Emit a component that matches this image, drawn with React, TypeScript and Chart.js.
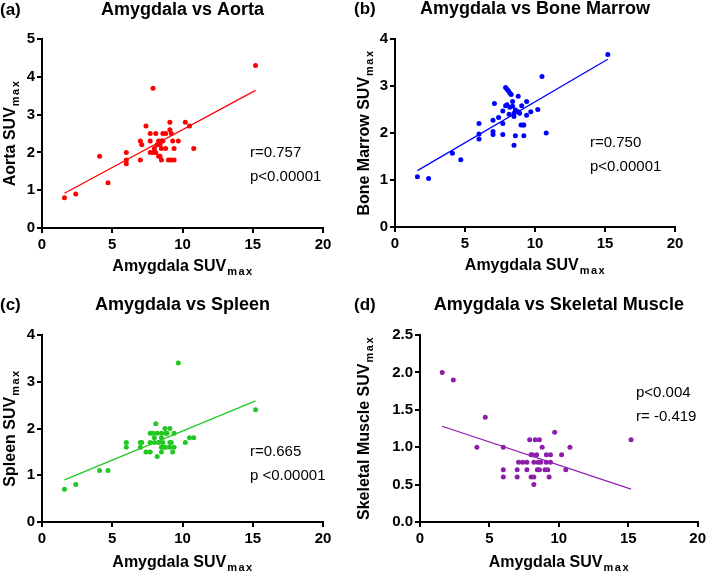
import React, { useEffect, useRef } from "react";
import { Chart, registerables } from "chart.js";
Chart.register(...registerables);

const FONT = '"Liberation Sans", Arial, Helvetica, sans-serif';

// ---- Data ----
const xTicks = [0, 5, 10, 15, 20];

const aortaX = [1.6, 2.4, 4.1, 4.7, 6.0, 6.0, 6.0, 7.0, 7.0, 7.1, 7.4, 7.7, 7.7, 7.7, 7.9, 7.9, 8.0, 8.1, 8.1, 8.2, 8.3, 8.3, 8.4, 8.4, 8.5, 8.5, 8.5, 8.6, 8.6, 8.8, 8.8, 9.0, 9.1, 9.1, 9.2, 9.2, 9.3, 9.4, 9.4, 9.7, 10.2, 10.5, 10.8, 15.2];
const aortaY = [0.8, 0.9, 1.9, 1.2, 2.0, 1.8, 1.7, 2.3, 1.8, 2.2, 2.7, 2.5, 2.3, 2.0, 3.7, 2.0, 2.1, 2.5, 2.0, 2.2, 1.9, 2.3, 2.2, 1.9, 2.3, 2.1, 1.8, 2.5, 2.3, 2.5, 2.1, 1.8, 2.8, 2.6, 2.5, 1.8, 2.3, 2.1, 1.8, 2.3, 2.8, 2.7, 2.1, 4.3];
const aortaFitX = [1.6, 15.2];
const aortaFitY = [0.92, 3.64];

const boneX = [1.6, 2.4, 4.1, 4.7, 6.0, 6.0, 6.0, 7.1, 7.0, 7.0, 7.0, 7.4, 7.7, 7.7, 7.7, 7.9, 8.0, 8.1, 8.2, 8.3, 7.9, 8.0, 8.2, 8.15, 8.4, 8.4, 8.5, 8.5, 8.5, 8.6, 8.6, 8.8, 8.8, 8.9, 9.0, 9.05, 9.15, 9.2, 9.2, 9.4, 9.4, 9.7, 10.2, 10.5, 10.8, 15.2];
const boneY = [1.07, 1.03, 1.57, 1.43, 2.2, 1.98, 1.87, 2.63, 2.27, 2.03, 1.97, 2.33, 2.47, 2.2, 1.97, 2.97, 2.93, 2.9, 2.85, 2.82, 2.58, 2.6, 2.55, 2.4, 2.57, 2.67, 2.42, 2.35, 1.74, 2.49, 1.94, 2.78, 2.45, 2.42, 2.17, 2.58, 2.17, 2.17, 1.94, 2.67, 2.38, 2.45, 2.5, 3.2, 2.0, 3.67];
const boneFitX = [1.6, 15.2];
const boneFitY = [1.2, 3.57];

const spleenX = [1.6, 2.4, 4.1, 4.7, 6.0, 6.0, 7.0, 7.0, 7.1, 7.4, 7.7, 7.7, 7.7, 7.9, 8.0, 8.1, 8.0, 8.2, 8.2, 8.3, 8.5, 8.5, 8.5, 8.5, 8.6, 8.65, 8.8, 8.75, 8.9, 8.8, 9.1, 9.1, 9.2, 9.1, 9.3, 9.4, 9.4, 9.7, 10.2, 10.5, 10.8, 15.2];
const spleenY = [0.7, 0.8, 1.1, 1.1, 1.7, 1.6, 1.7, 1.6, 1.7, 1.5, 1.9, 1.7, 1.5, 1.9, 1.8, 2.1, 1.7, 1.9, 1.4, 1.7, 1.8, 1.9, 1.6, 1.5, 1.7, 1.6, 1.9, 2.0, 1.9, 1.6, 2.0, 1.7, 1.7, 1.6, 1.5, 1.9, 1.6, 3.4, 1.7, 1.8, 1.8, 2.4];
const spleenFitX = [1.6, 15.2];
const spleenFitY = [0.9, 2.59];

const muscleX = [1.6, 2.4, 4.1, 4.7, 6.0, 6.0, 6.0, 7.0, 7.0, 7.1, 7.4, 7.7, 7.7, 7.9, 8.0, 8.0, 8.1, 8.2, 8.2, 8.2, 8.3, 8.4, 8.45, 8.5, 8.6, 8.6, 8.7, 8.8, 9.1, 9.1, 9.0, 9.2, 9.3, 9.4, 9.4, 9.7, 10.2, 10.5, 10.8, 15.2];
const muscleY = [2.0, 1.9, 1.0, 1.4, 1.0, 0.7, 0.6, 0.7, 0.6, 0.8, 0.8, 0.8, 0.7, 1.1, 0.9, 0.6, 0.9, 0.8, 0.5, 0.6, 1.1, 0.9, 0.7, 0.8, 1.1, 0.7, 0.8, 1.0, 0.9, 0.8, 0.7, 0.7, 0.6, 0.9, 0.8, 1.2, 0.9, 0.7, 1.0, 1.1];
const muscleFitX = [1.6, 15.2];
const muscleFitY = [1.28, 0.44];

type PanelCfg = {
  left: number; top: number; width: number; height: number;
  letter: string; title: string; yLabel: string;
  xs: number[]; ys: number[]; fitX: number[]; fitY: number[];
  color: string; yMax: number; yStep: number; decimals: number;
  notes: string[]; noteX: number; noteY: number;
  padTop: number; padRight: number; yAxisW: number; xAxisH: number;
  titleY: number; letterY: number; xTitleY: number; yTitleX: number;
};

const panels: PanelCfg[] = [
  {
    left: 0, top: 0, width: 354, height: 286,
    letter: "(a)", title: "Amygdala vs Aorta", yLabel: "Aorta SUV",
    xs: aortaX, ys: aortaY, fitX: aortaFitX, fitY: aortaFitY,
    color: "#ff0000", yMax: 5, yStep: 1, decimals: 0,
    notes: ["r=0.757", "p<0.00001"], noteX: 250, noteY: 157,
    padTop: 39, padRight: 31, yAxisW: 42, xAxisH: 58,
    titleY: 15, letterY: 15, xTitleY: 271, yTitleX: 15,
  },
  {
    left: 354, top: 0, width: 355, height: 286,
    letter: "(b)", title: "Amygdala vs Bone Marrow", yLabel: "Bone Marrow SUV",
    xs: boneX, ys: boneY, fitX: boneFitX, fitY: boneFitY,
    color: "#0000ff", yMax: 4, yStep: 1, decimals: 0,
    notes: ["r=0.750", "p<0.00001"], noteX: 236, noteY: 147,
    padTop: 39, padRight: 34, yAxisW: 41, xAxisH: 59,
    titleY: 14, letterY: 14, xTitleY: 270, yTitleX: 15,
  },
  {
    left: 0, top: 286, width: 354, height: 286,
    letter: "(c)", title: "Amygdala vs Spleen", yLabel: "Spleen SUV",
    xs: spleenX, ys: spleenY, fitX: spleenFitX, fitY: spleenFitY,
    color: "#22c822", yMax: 4, yStep: 1, decimals: 0,
    notes: ["r=0.665", "p <0.00001"], noteX: 250, noteY: 170,
    padTop: 49, padRight: 31, yAxisW: 42, xAxisH: 50,
    titleY: 24, letterY: 24, xTitleY: 281, yTitleX: 15,
  },
  {
    left: 354, top: 286, width: 355, height: 286,
    letter: "(d)", title: "Amygdala vs Skeletal Muscle", yLabel: "Skeletal Muscle SUV",
    xs: muscleX, ys: muscleY, fitX: muscleFitX, fitY: muscleFitY,
    color: "#8c1eaa", yMax: 2.5, yStep: 0.5, decimals: 1,
    notes: ["p<0.004", "r= -0.419"], noteX: 282, noteY: 111,
    padTop: 49, padRight: 8, yAxisW: 66, xAxisH: 50,
    titleY: 24, letterY: 24, xTitleY: 281, yTitleX: 15,
  },
];

function drawSubLabel(ctx: CanvasRenderingContext2D, main: string, sub: string, cx: number, y: number) {
  ctx.font = `bold 16px ${FONT}`;
  (ctx as any).letterSpacing = "0px";
  const wMain = ctx.measureText(main).width;
  ctx.font = `bold 11px ${FONT}`;
  (ctx as any).letterSpacing = "1.5px";
  const wSub = ctx.measureText(sub).width;
  const x0 = cx - (wMain + wSub) / 2;
  ctx.textAlign = "left";
  ctx.textBaseline = "alphabetic";
  ctx.font = `bold 16px ${FONT}`;
  (ctx as any).letterSpacing = "0px";
  ctx.fillText(main, x0, y);
  ctx.font = `bold 11px ${FONT}`;
  (ctx as any).letterSpacing = "1.5px";
  ctx.fillText(sub, x0 + wMain + 1, y + 4);
  (ctx as any).letterSpacing = "0px";
}

function Panel({ cfg }: { cfg: PanelCfg }) {
  const ref = useRef<HTMLCanvasElement | null>(null);
  useEffect(() => {
    if (!ref.current) return;
    const overlay = {
      id: "overlay",
      afterDraw(chart: any) {
        const { ctx, chartArea: ca } = chart;
        ctx.save();
        ctx.fillStyle = "#000";
        ctx.textBaseline = "alphabetic";
        ctx.font = `bold 17px ${FONT}`;
        ctx.textAlign = "left";
        ctx.fillText(cfg.letter, 0, cfg.letterY);
        ctx.font = `bold 18px ${FONT}`;
        ctx.textAlign = "center";
        ctx.fillText(cfg.title, (ca.left + ca.right) / 2, cfg.titleY);
        drawSubLabel(ctx, "Amygdala SUV", "max", (ca.left + ca.right) / 2, cfg.xTitleY);
        ctx.save();
        ctx.translate(cfg.yTitleX, (ca.top + ca.bottom) / 2);
        ctx.rotate(-Math.PI / 2);
        drawSubLabel(ctx, cfg.yLabel, "max", 0, 0);
        ctx.restore();
        ctx.font = `15px ${FONT}`;
        ctx.textAlign = "left";
        cfg.notes.forEach((n, i) => ctx.fillText(n, cfg.noteX, cfg.noteY + i * 24));
        ctx.restore();
      },
    };
    const tickFont = { family: FONT, size: 15, weight: "bold" as const };
    const chart = new Chart(ref.current, {
      type: "scatter",
      data: {
        datasets: [
          {
            data: cfg.xs.map((x, i) => ({ x, y: cfg.ys[i] })),
            backgroundColor: cfg.color,
            borderColor: cfg.color,
            pointRadius: 2.5,
            pointBorderWidth: 0,
            showLine: false,
          },
          {
            data: cfg.fitX.map((x, i) => ({ x, y: cfg.fitY[i] })),
            showLine: true,
            borderColor: cfg.color,
            borderWidth: 1.3,
            pointRadius: 0,
            fill: false,
          },
        ],
      },
      options: {
        responsive: false,
        animation: false,
        devicePixelRatio: 1,
        layout: { padding: { left: 0, top: cfg.padTop, right: cfg.padRight, bottom: 0 } },
        plugins: { legend: { display: false }, tooltip: { enabled: false }, title: { display: false } },
        scales: {
          x: {
            type: "linear",
            min: 0,
            max: 20,
            afterBuildTicks: (s: any) => { s.ticks = xTicks.map((v) => ({ value: v })); },
            ticks: { color: "#000", font: tickFont, padding: 3, maxRotation: 0, autoSkip: false },
            grid: { display: true, drawOnChartArea: false, drawTicks: true, tickLength: 5, color: "#000", lineWidth: 2 },
            border: { display: true, color: "#000", width: 2 },
            afterFit: (s: any) => { s.height = cfg.xAxisH; },
          },
          y: {
            type: "linear",
            min: 0,
            max: cfg.yMax,
            ticks: {
              stepSize: cfg.yStep,
              color: "#000",
              font: tickFont,
              padding: 2,
              callback: (v: any) => Number(v).toFixed(cfg.decimals),
            },
            grid: { display: true, drawOnChartArea: false, drawTicks: true, tickLength: 5, color: "#000", lineWidth: 2 },
            border: { display: true, color: "#000", width: 2 },
            afterFit: (s: any) => { s.width = cfg.yAxisW; },
          },
        },
      },
      plugins: [overlay],
    });
    return () => chart.destroy();
  }, [cfg]);
  return (
    <canvas
      ref={ref}
      width={cfg.width}
      height={cfg.height}
      style={{ position: "absolute", left: cfg.left, top: cfg.top, width: cfg.width, height: cfg.height }}
    />
  );
}

export default function App() {
  return (
    <div style={{ position: "absolute", left: 0, top: 0, width: 709, height: 572, overflow: "hidden", background: "#fff" }}>
      {panels.map((p) => (
        <Panel key={p.letter} cfg={p} />
      ))}
    </div>
  );
}
